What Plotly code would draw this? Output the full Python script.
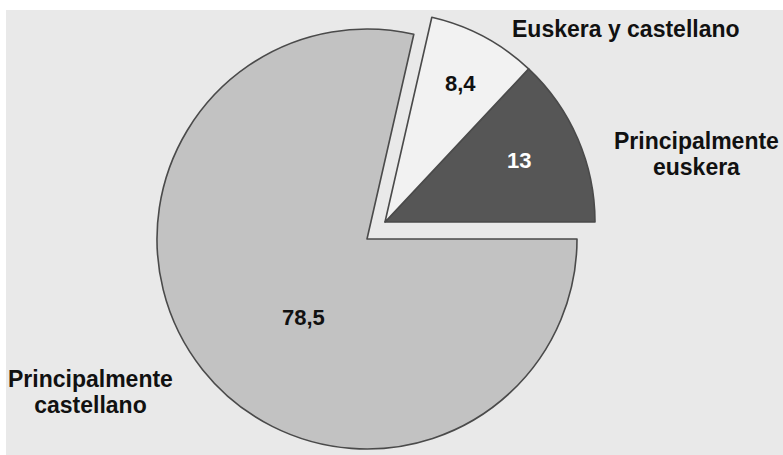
import plotly.graph_objects as go

# Language use shares (%)
categories = ["Principalmente euskera", "Euskera y castellano", "Principalmente castellano"]
values = [13, 8.4, 78.5]
label_lines = [["Principalmente", "euskera"], ["Euskera y castellano"], ["Principalmente", "castellano"]]

W, H = 783, 455
slice_colors = ["#565656", "#f2f2f2", "#c2c2c2"]
value_colors = ["white", "#111111", "#111111"]
edge_color = "#4a4a4a"
bg_color = "#e9e9e9"
FONT = "Liberation Sans, Arial, sans-serif"

# first sector begins on the horizontal (3 o'clock) and the sectors run counterclockwise;
# plotly anchors the END of the first sector at `rotation` in that direction
start_rotation = 90 - values[0] / sum(values) * 360


def fmt(v):
    return f"{v:g}".replace(".", ",")


def pie_domain(cx, cy, r):
    """Square pie box (paper fractions) for a centre/radius given in pixels."""
    return dict(x=[(cx - r) / W, (cx + r) / W], y=[(H - (cy + r)) / H, (H - (cy - r)) / H])


def pie_trace(visible, domain):
    return go.Pie(
        labels=categories,
        values=values,
        sort=False,
        direction="counterclockwise",
        rotation=start_rotation,
        domain=domain,
        textinfo="none",
        marker=dict(
            colors=[c if show else "rgba(0,0,0,0)" for c, show in zip(slice_colors, visible)],
            line=dict(color=edge_color, width=[1.6 if show else 0 for show in visible]),
        ),
        hoverinfo="label+value",
        showlegend=False,
    )


fig = go.Figure()
# the two small sectors stay together, the large sector is set apart from them
fig.add_trace(pie_trace([True, True, False], pie_domain(385, 222, 210)))
fig.add_trace(pie_trace([False, False, True], pie_domain(367, 239, 210)))


def add_text(px, py, text, size, color="#111111", base_size=None):
    fig.add_annotation(
        x=px / W, y=1 - py / H, xref="paper", yref="paper",
        text=text, showarrow=False, xanchor="center", yanchor="middle",
        align="center", borderpad=0,
        font=dict(family=FONT, size=base_size or size, weight="bold", color=color),
    )


# values written inside the sectors
value_spots = [(519, 160), (460, 83), (303, 317)]
for v, (px, py), col in zip(values, value_spots, value_colors):
    add_text(px, py, fmt(v), 22, col)

# outer category labels; the base size drives the step between the lines
label_spots = [(696, 154), (626, 29), (90, 392)]
for lines, (px, py) in zip(label_lines, label_spots):
    body = "<br>".join(f"<span style='font-size:23px'>{ln}</span>" for ln in lines)
    add_text(px, py, body, 23, base_size=20 if len(lines) > 1 else 23)

fig.update_layout(
    width=W, height=H,
    margin=dict(l=0, r=0, t=0, b=0),
    paper_bgcolor="white",
    plot_bgcolor="white",
    shapes=[dict(type="rect", xref="paper", yref="paper", x0=6 / W, x1=1, y0=0, y1=1 - 10 / H,
                 fillcolor=bg_color, line=dict(width=0), layer="below")],
)

fig.write_html("out.html")
